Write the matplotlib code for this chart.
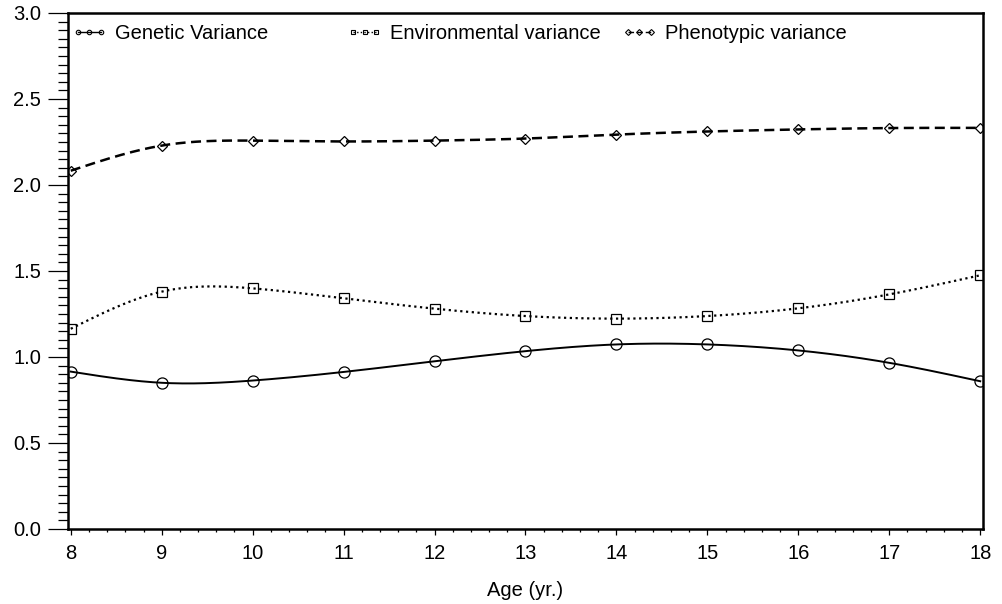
import numpy as np
import matplotlib
matplotlib.use('Agg')
import matplotlib.pyplot as plt
from matplotlib.lines import Line2D
from matplotlib.legend import Legend
from matplotlib.ticker import MultipleLocator, FormatStrFormatter

plt.rcParams['font.family'] = ['Liberation Sans', 'DejaVu Sans']

age = [8, 9, 10, 11, 12, 13, 14, 15, 16, 17, 18]
genetic = [0.915, 0.850, 0.863, 0.913, 0.975, 1.034, 1.073, 1.073, 1.038, 0.966, 0.859]
environmental = [1.164, 1.380, 1.399, 1.341, 1.281, 1.238, 1.223, 1.238, 1.283, 1.364, 1.475]
phenotypic = [2.083, 2.229, 2.258, 2.253, 2.258, 2.270, 2.293, 2.311, 2.323, 2.331, 2.332]
labels = ['Genetic Variance', 'Environmental variance', 'Phenotypic variance']


def natural_spline(x, y, xs):
    # plain natural cubic spline, like SAS interpol=spline
    x = np.asarray(x, float); y = np.asarray(y, float)
    n = len(x)
    h = np.diff(x)
    A = np.zeros((n, n)); rhs = np.zeros(n)
    A[0, 0] = 1; A[-1, -1] = 1
    for i in range(1, n - 1):
        A[i, i - 1] = h[i - 1]
        A[i, i] = 2 * (h[i - 1] + h[i])
        A[i, i + 1] = h[i]
        rhs[i] = 6 * ((y[i + 1] - y[i]) / h[i] - (y[i] - y[i - 1]) / h[i - 1])
    M = np.linalg.solve(A, rhs)
    idx = np.clip(np.searchsorted(x, xs) - 1, 0, n - 2)
    x0 = x[idx]; x1 = x[idx + 1]; hh = x1 - x0
    a = (x1 - xs) / hh; b = (xs - x0) / hh
    return (a * y[idx] + b * y[idx + 1]
            + ((a ** 3 - a) * M[idx] + (b ** 3 - b) * M[idx + 1]) * hh ** 2 / 6)


fig = plt.figure(figsize=(10.02, 6.04), dpi=100)
ax = fig.add_axes([0.0679, 0.1242, 0.9131, 0.8543])

xs = np.linspace(age[0], age[-1], 400)
styles = [
    dict(ls='-', lw=1.4, marker='o', ms=8.0),
    dict(ls=(0, (1.0, 1.6)), lw=1.6, marker='s', ms=7.4),
    dict(ls=(0, (4.0, 2.2)), lw=1.8, marker='D', ms=5.2),
]
series = [genetic, environmental, phenotypic]

for vals, st in zip(series, styles):
    ax.plot(xs, natural_spline(age, vals, xs), color='black', ls=st['ls'], lw=st['lw'])
    ax.plot(age, vals, ls='none', marker=st['marker'], ms=st['ms'],
            mfc='none', mec='black', mew=0.9)

ax.set_xlim(7.97, 18.03)
ax.set_ylim(0, 3.0)
ax.xaxis.set_major_locator(MultipleLocator(1))
ax.xaxis.set_minor_locator(MultipleLocator(0.2))
ax.yaxis.set_major_locator(MultipleLocator(0.5))
ax.yaxis.set_minor_locator(MultipleLocator(0.05))
ax.yaxis.set_major_formatter(FormatStrFormatter('%.1f'))

fs = 14.5
for s in ax.spines.values():
    s.set_linewidth(1.8)
ax.tick_params(axis='y', which='major', direction='out', length=14.4, width=0.9,
               pad=5, labelsize=fs)
ax.tick_params(axis='y', which='minor', direction='out', length=7.2, width=0.9)
ax.tick_params(axis='x', which='major', direction='out', length=4.5, width=0.9,
               pad=6, labelsize=fs)
ax.tick_params(axis='x', which='minor', direction='out', length=2.3, width=0.9)

ax.set_xlabel('Age (yr.)', fontsize=fs, labelpad=13)

# legend: three separate entries spaced evenly across the top
leg_x = [0.004, 0.305, 0.605]
leg_ms = [3.2, 3.2, 3.0]
for lab, st, lx, lms in zip(labels, styles, leg_x, leg_ms):
    h = Line2D([], [], color='black', ls=st['ls'], lw=1.0, marker=st['marker'],
               ms=lms, mfc='none', mec='black', mew=0.8)
    leg = Legend(ax, [h], [lab], loc='center left', bbox_to_anchor=(lx, 0.96),
                 frameon=False, numpoints=3, handlelength=1.75,
                 handletextpad=0.4, borderpad=0, borderaxespad=0,
                 fontsize=fs)
    ax.add_artist(leg)

fig.savefig('out.png', dpi=100)
